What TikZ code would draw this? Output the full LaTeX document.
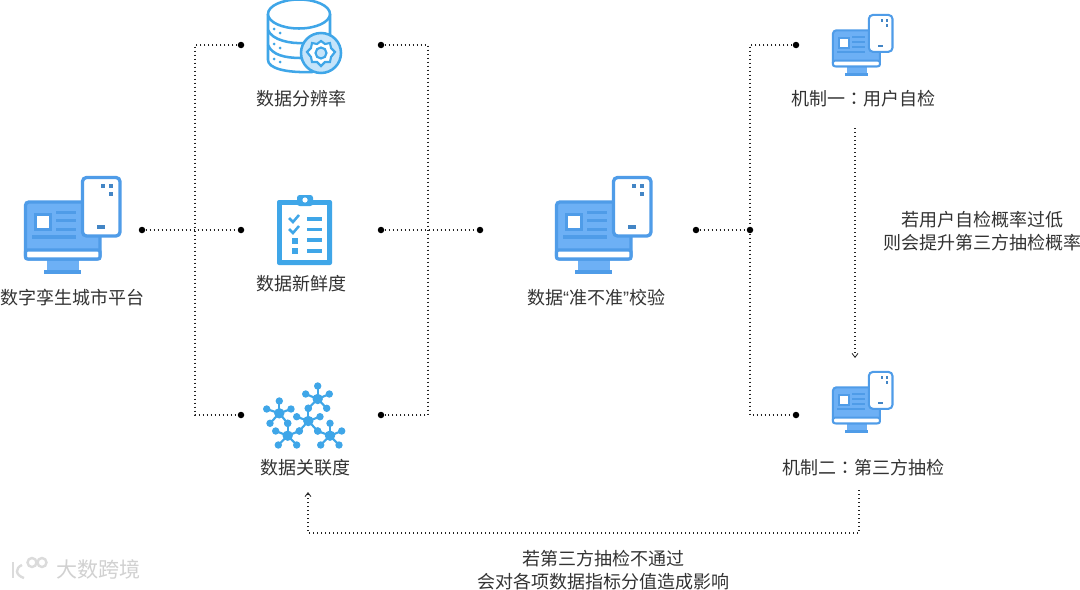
\documentclass[tikz,border=0pt]{standalone}
\usepackage{fontspec}
\setmainfont{Noto Sans CJK SC}
\newfontfamily\latinq{Liberation Sans}
\newfontfamily\tcfont{Noto Sans CJK TC}
\usetikzlibrary{arrows.meta}
\definecolor{iconblue}{HTML}{4F9CE8}
\definecolor{iconfill}{HTML}{6DB0F5}
\definecolor{skyblue}{HTML}{3FA6E8}
\definecolor{lightsky}{HTML}{C5E4FA}
\definecolor{dotline}{HTML}{222222}
\definecolor{labelgrey}{HTML}{333333}
\tikzset{
  dotnode/.style={circle,fill=black,inner sep=0pt,minimum size=6.5*0.75pt},
  link/.style={draw=dotline,line width=0.9pt,dash pattern=on 1.1pt off 1.9pt},
  label/.style={text=labelgrey,font=\fontsize{13.5pt}{17pt}\selectfont,inner sep=0pt,align=center},
  tip/.style={-{Straight Barb[length=3pt,width=4.5pt,line width=0.6pt]}},
}
\newcommand{\compicon}[3]{% x, y (top-left), scale ; drawn in big-icon coordinates (24..121,176..274)
\begin{scope}[shift={(#1,#2)},scale=#3,shift={(-24,-176)}]
  \pgfmathsetmacro{\lw}{3.3*#3*0.75}
  \fill[iconfill] (47,260) rectangle (79,271);
  \fill[iconblue] (44,270) rectangle (81,274);
  \draw[iconblue,line width=\lw pt,rounded corners=2.5pt,fill=iconfill] (25.5,202) rectangle (100,259);
  \draw[iconblue,line width=\lw pt,fill=white,rounded corners=1.5pt] (25.5,250) rectangle (100,259);
  \fill[iconblue] (34,213) rectangle (52,231);
  \fill[white] (37,216) rectangle (49,228);
  \foreach \yy in {212,220.7,229}{\fill[iconblue] (56,\yy-1.5) rectangle (76,\yy+1.5);}
  \fill[iconblue] (32,235) rectangle (76,238.5);
  \draw[iconblue,line width=\lw pt,fill=white,rounded corners=3pt] (82.5,177.5) rectangle (120,236);
  \foreach \xx/\yy in {103/186,111/186,111/194}{\fill[iconblue!85!black] (\xx-2,\yy-2) rectangle (\xx+2,\yy+2);}
  \fill[iconblue!85!black] (97,225) rectangle (105,229);
\end{scope}}
\begin{document}
\begin{tikzpicture}[x=0.75pt,y=-0.75pt]
\useasboundingbox (0,0) rectangle (1080,589);
\fill[white] (0,0) rectangle (1080,589);

% computer icons
\compicon{24}{176}{1}
\compicon{555}{176}{1}
\compicon{832}{14}{0.63}
\compicon{832}{371}{0.63}

% database icon
\begin{scope}[skyblue,line width=1.9pt]
  \clip (255,0) rectangle (345,85);
  \draw[fill=white] (268,14) -- (268,60) .. controls (268,68) and (285,73) .. (312,72) -- (330,60) -- (330,14);
  \draw[fill=white] (299,14) ellipse (31 and 14.5);
  \draw (268,30) .. controls (272,40) and (290,44) .. (305,43);
  \draw (268,45) .. controls (272,55) and (285,58) .. (301,58);
  \foreach \xx/\yy in {274/29,280/33,274/44,280/48,274/59,280/62}{\fill (\xx,\yy) circle (1.5);}
  \draw[fill=lightsky] (321,53) circle (20);
  \draw[fill=white,line width=1.6pt] (321,41) -- (325,44) -- (330,43) -- (331,48) -- (335,52) -- (331,57) -- (330,62) -- (325,62) -- (321,66) -- (317,62) -- (312,62) -- (311,57) -- (307,52) -- (311,48) -- (312,43) -- (317,44) -- cycle;
  \draw[fill=lightsky,line width=1.6pt] (321,53) circle (5.5);
\end{scope}

% clipboard icon
\begin{scope}[skyblue]
  \fill[rounded corners=1.5pt] (277,200) rectangle (332,265);
  \fill[white] (282,205) rectangle (327,260);
  \fill[rounded corners=2pt] (297,195) rectangle (313,206);
  \fill[white] (305,200) circle (2.6);
  \draw[line width=1.9pt] (289,218) -- (293,222) -- (299,215);
  \draw[line width=1.9pt] (289,229) -- (293,233) -- (299,226);
  \fill (292,238) rectangle (298,244);
  \fill (292,248) rectangle (298,254);
  \foreach \yy in {219,229.5,240,251}{\fill (306.5,\yy-1.6) rectangle (321.5,\yy+1.6);}
\end{scope}

% network icon
\begin{scope}[skyblue,line width=1.6pt]
  \foreach \hx/\hy/\sats in {
    317.7/399/{317.7/386,305.7/394,329.3/394,308.3/408.3,326.7/408.3},
    279.3/413.3/{279.3/401,266.7/409,291/409,270/423.3,287.7/423.3},
    308.3/421/{296.7/416.7,320/416.7,299.3/431,317.7/431,308.3/408.3},
    287.7/435.7/{275.7/431,299.3/431,278.3/445,296.7/445,287.7/423.3},
    330/435.7/{330/423.3,317.7/431,341.7/431,320.7/445,339/445}}{
    \foreach \sx/\sy in \sats {
      \draw (\hx,\hy) -- (\sx,\sy);
      \fill (\sx,\sy) circle (3.7);
    }
    \fill (\hx,\hy) circle (5.2);
  }
\end{scope}

% labels
\node[label] (platform) at (72,298) {数字孪生城市平台};
\node[label] (res) at (301,99) {数据分辨率};
\node[label] (fresh) at (301,284) {数据新鲜度};
\node[label] (assoc) at (305,468) {数据关联度};
\node[label] (check) at (596,298) {数据{\latinq“}准不准{\latinq”}校验};
\node[label] (mech1) at (863,99) {机制一{\tcfont：}用户自检};
\node[label] (mech2) at (863,468) {机制二{\tcfont：}第三方抽检};
\node[label] (note1) at (982,231) {若用户自检概率过低\\则会提升第三方抽检概率};
\node[label] (note2) at (603,570) {若第三方抽检不通过\\会对各项数据指标分值造成影响};

% connector dots
\node[dotnode] (p0) at (142,230) {};
\node[dotnode] (p1) at (241,45) {};
\node[dotnode] (p2) at (241,230) {};
\node[dotnode] (p3) at (241,415) {};
\node[dotnode] (q1) at (381,45) {};
\node[dotnode] (q2) at (381,230) {};
\node[dotnode] (q3) at (381,415) {};
\node[dotnode] (c0) at (480,230) {};
\node[dotnode] (c1) at (696,230) {};
\node[dotnode] (c2) at (750,230) {};
\node[dotnode] (m1) at (796,45) {};
\node[dotnode] (m2) at (796,415) {};
\coordinate (j1) at (195,230);
\coordinate (j2) at (428,230);
\coordinate (a1) at (855,128);
\coordinate (a2) at (855,358);
\coordinate (b1) at (859,490);
\coordinate (b2) at (308,492);

\draw[link] (p0) -- (p2);
\draw[link] (p1) -| (j1) |- (p3);
\draw[link] (q1) -| (j2) |- (q3);
\draw[link] (q2) -- (c0);
\draw[link] (c1) -- (c2);
\draw[link] (m1) -| (c2) |- (m2);
\draw[link,tip] (a1) -- (a2);
\draw[link,tip] (b1) -- (859,533) -- (308,533) -- (b2);

% watermark
\begin{scope}[black!14,line width=1.8pt]
  \draw (13,562) -- (13,578);
  \draw (22,565) .. controls (15,568) and (15,575) .. (24,578);
  \draw (32,562.5) circle (4.5);
  \draw (42,562.5) circle (4.5);
\end{scope}
\node[text=black!18,inner sep=0pt,font=\fontsize{15.8pt}{18pt}\selectfont] (wm) at (98.5,569) {大数跨境};
\end{tikzpicture}
\end{document}
